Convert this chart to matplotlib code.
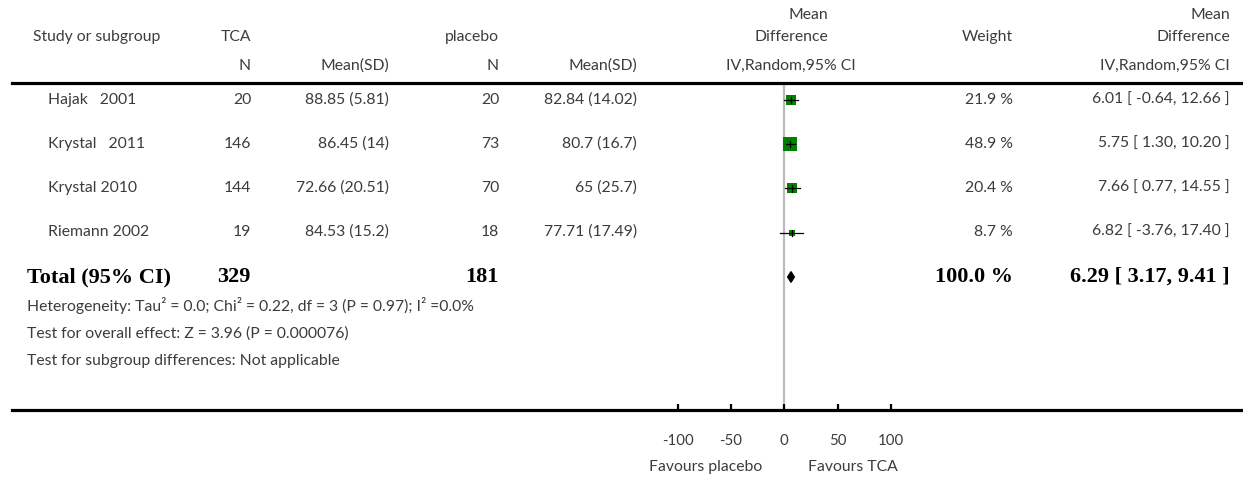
import numpy as np
import matplotlib
matplotlib.use('Agg')
import matplotlib.pyplot as plt
from matplotlib.patches import Polygon

# данные исследований
studies = ['Hajak   2001', 'Krystal   2011', 'Krystal 2010', 'Riemann 2002']
tca_n = [20, 146, 144, 19]
tca_mean = [88.85, 86.45, 72.66, 84.53]
tca_sd = [5.81, 14, 20.51, 15.2]
pl_n = [20, 73, 70, 18]
pl_mean = [82.84, 80.7, 65, 77.71]
pl_sd = [14.02, 16.7, 25.7, 17.49]
weight = [21.9, 48.9, 20.4, 8.7]
md = [6.01, 5.75, 7.66, 6.82]
lo = [-0.64, 1.30, 0.77, -3.76]
hi = [12.66, 10.20, 14.55, 17.40]

# итог
total_n_tca = 329
total_n_pl = 181
total_weight = 100.0
total_md = 6.29
total_lo = 3.17
total_hi = 9.41

ticks = [-100, -50, 0, 50, 100]
notes = ['Heterogeneity: Tau² = 0.0; Chi² = 0.22, df = 3 (P = 0.97); I² =0.0%',
         'Test for overall effect: Z = 3.96 (P = 0.000076)',
         'Test for subgroup differences: Not applicable']

W, H = 1243, 478
fig = plt.figure(figsize=(W / 100, H / 100), dpi=100)
fig.patch.set_facecolor('white')

FONT = 'Lato'
TXT = '#3c3c3c'
FS = 11.3


def t(x, y, s, ha='left', bold=False, size=None):
    # текст в пиксельных координатах (от левого верхнего угла)
    if bold:
        fig.text(x / W, 1 - y / H, s, ha=ha, va='center', family='Liberation Serif',
                 weight='bold', fontsize=16, color='black')
    else:
        fig.text(x / W, 1 - y / H, s, ha=ha, va='center', family=FONT,
                 fontsize=size or FS, color=TXT)


# шапка таблицы
t(33, 37, 'Study or subgroup')
t(251, 37, 'TCA', ha='right')
t(251, 66, 'N', ha='right')
t(389, 66, 'Mean(SD)', ha='right')
t(499, 37, 'placebo', ha='right')
t(499, 66, 'N', ha='right')
t(637, 66, 'Mean(SD)', ha='right')
t(828, 15, 'Mean', ha='right')
t(828, 37, 'Difference', ha='right')
t(791, 66, 'IV,Random,95% CI', ha='center')
t(1013, 37, 'Weight', ha='right')
t(1230, 15, 'Mean', ha='right')
t(1230, 37, 'Difference', ha='right')
t(1230, 66, 'IV,Random,95% CI', ha='right')

row_y = [100, 144, 188, 232]
for i in range(len(studies)):
    y = row_y[i]
    t(48, y, studies[i])
    t(251, y, str(tca_n[i]), ha='right')
    t(389, y, f'{tca_mean[i]} ({tca_sd[i]})', ha='right')
    t(499, y, str(pl_n[i]), ha='right')
    t(637, y, f'{pl_mean[i]} ({pl_sd[i]})', ha='right')
    t(1013, y, f'{weight[i]} %', ha='right')
    t(1230, y, f'{md[i]:.2f} [ {lo[i]:.2f}, {hi[i]:.2f} ]', ha='right')

t(27, 277, 'Total (95% CI)', bold=True)
t(251, 277, str(total_n_tca), ha='right', bold=True)
t(499, 277, str(total_n_pl), ha='right', bold=True)
t(1013, 277, f'{total_weight:.1f} %', ha='right', bold=True)
t(1230, 277, f'{total_md:.2f} [ {total_lo:.2f}, {total_hi:.2f} ]', ha='right', bold=True)

t(27, 306, notes[0])
t(27, 333.5, notes[1])
t(27, 361, notes[2])

t(706, 467, 'Favours placebo', ha='center')
t(853, 467, 'Favours TCA', ha='center')

# график (forest plot)
scale = 1.0665   # пикселей на единицу
x0 = 784.3
ax = fig.add_axes([12 / W, 1 - 410 / H, (W - 12) / W, (410 - 83) / H])
ax.set_xlim((12 - x0) / scale, (W - x0) / scale)
ax.set_ylim((410 - 100) / 44.25, (83 - 100) / 44.25)
ax.set_facecolor('none')
for sp in ['left', 'right']:
    ax.spines[sp].set_visible(False)
ax.spines['top'].set_linewidth(2.3)
ax.spines['bottom'].set_linewidth(2.3)
ax.set_yticks([])
ax.set_xticks(ticks)
ax.set_xticklabels([str(v) for v in ticks], family=FONT, fontsize=FS - 0.5, color=TXT)
ax.tick_params(axis='x', direction='in', length=4, width=1.6, pad=17, colors='black',
               labelcolor=TXT)

ax.axvline(0, color='#bbbbbb', lw=1.6, zorder=1)

for i in range(len(studies)):
    ax.plot([lo[i], hi[i]], [i, i], color='black', lw=0.9, zorder=3)
    side = 2.0 * np.sqrt(weight[i]) * 0.72
    ax.plot(md[i], i, marker='s', markersize=side, color='#008000', mec='#008000', mew=0,
            zorder=2)
    ax.plot([md[i], md[i]], [i - 0.07, i + 0.07], color='black', lw=0.9, zorder=4)

diamond = Polygon([[total_lo, 4], [total_md, 4 - 0.12], [total_hi, 4], [total_md, 4 + 0.12]],
                  closed=True, color='black', zorder=3)
ax.add_patch(diamond)

plt.savefig('out.png', dpi=100)
